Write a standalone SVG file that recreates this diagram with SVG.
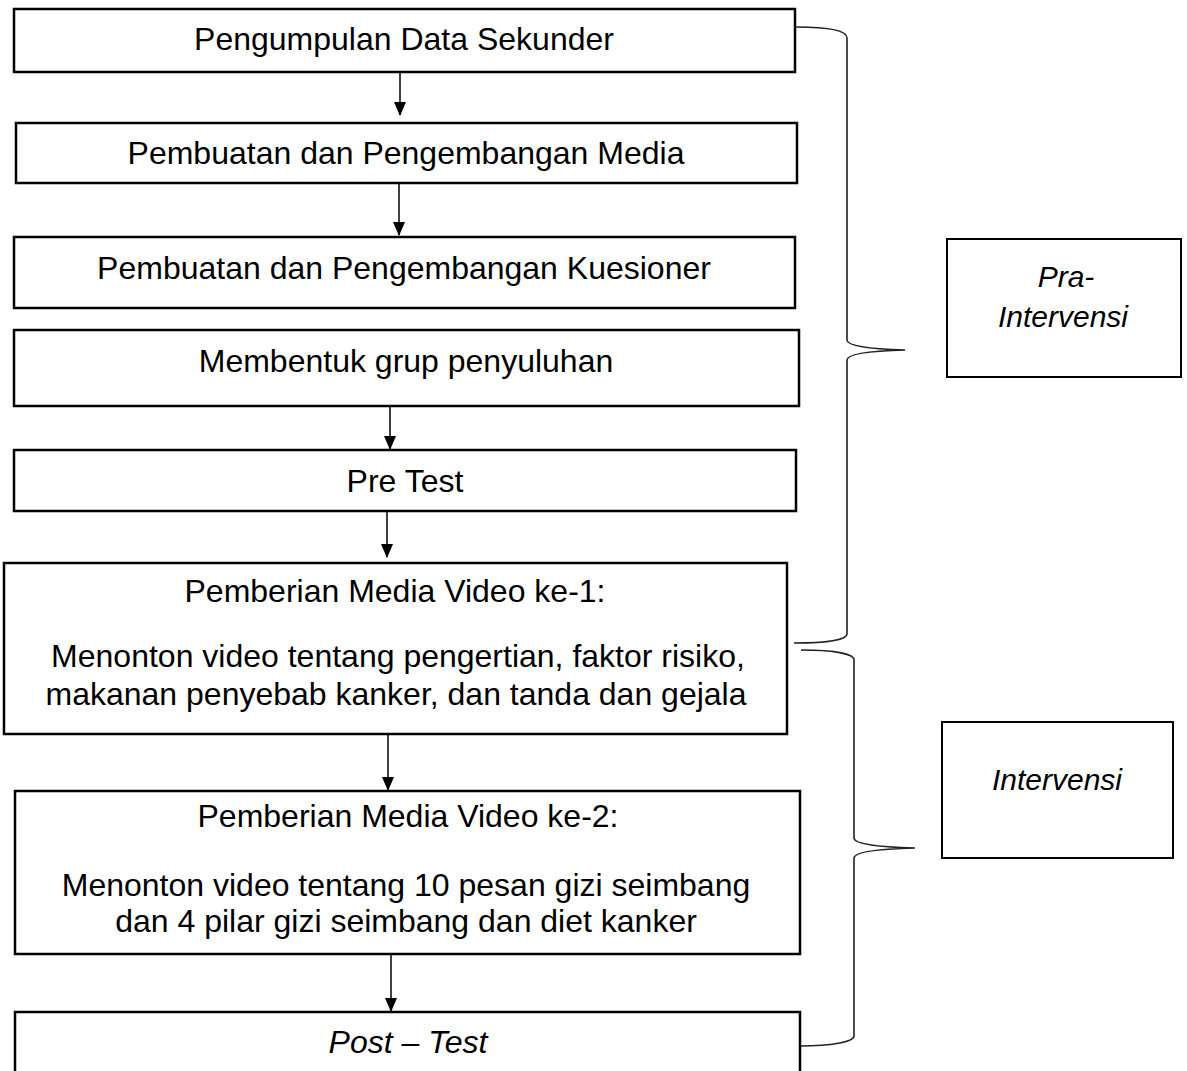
<svg xmlns="http://www.w3.org/2000/svg" width="1187" height="1071" viewBox="0 0 1187 1071">
<style>
.box{fill:#fff;stroke:#000;stroke-width:2.5}
.lbl{fill:#fff;stroke:#000;stroke-width:2}
.t{font-family:"Liberation Sans",Arial,sans-serif;font-size:32px;fill:#000;text-anchor:middle}
.i{font-style:italic}
.s{font-size:30px}
.con{stroke:#000;stroke-width:1.5;fill:none;marker-end:url(#ah)}
.br{stroke:#222;stroke-width:1.6;fill:none}
</style>
<defs>
<marker id="ah" viewBox="0 0 14 12" refX="13" refY="6" markerWidth="14" markerHeight="12" markerUnits="userSpaceOnUse" orient="auto">
<path d="M0,0 L14,6 L0,12 Z" fill="#000"/>
</marker>
</defs>
<rect width="1187" height="1071" fill="#fff"/>
<g id="connectors">
<line class="con" x1="400" y1="72" x2="400" y2="115"/>
<line class="con" x1="399" y1="183" x2="399" y2="235"/>
<line class="con" x1="390" y1="406" x2="390" y2="449"/>
<line class="con" x1="387" y1="511" x2="387" y2="557"/>
<line class="con" x1="388" y1="734" x2="388" y2="790"/>
<line class="con" x1="391" y1="954" x2="391" y2="1011"/>
<path class="br" d="M796,27 C826,27 847,30 847,38 L847,340 C847,346 870,349 905,350 C870,351 847,354 847,360 L847,634 C847,640 826,643 794,643"/>
<path class="br" d="M801,650 C830,650 854,653 854,660 L854,838 C854,844 878,847 915,848 C878,849 854,852 854,858 L854,1036 C854,1042 830,1046 801,1046"/>
</g>
<g id="n1"><rect class="box" x="14" y="9" width="781" height="63"/><text class="t" x="404" y="50">Pengumpulan Data Sekunder</text></g>
<g id="n2"><rect class="box" x="16" y="123" width="781" height="60"/><text class="t" x="406" y="164">Pembuatan dan Pengembangan Media</text></g>
<g id="n3"><rect class="box" x="14" y="237" width="781" height="71"/><text class="t" x="404" y="279">Pembuatan dan Pengembangan Kuesioner</text></g>
<g id="n4"><rect class="box" x="14" y="330" width="785" height="76"/><text class="t" x="406" y="372">Membentuk grup penyuluhan</text></g>
<g id="n5"><rect class="box" x="14" y="450" width="782" height="61"/><text class="t" x="405" y="492">Pre Test</text></g>
<g id="n6"><rect class="box" x="4" y="563" width="783" height="171"/>
<text class="t" x="395" y="602">Pemberian Media Video ke-1:</text>
<text class="t" x="398" y="667">Menonton video tentang pengertian, faktor risiko,</text>
<text class="t" x="396" y="705">makanan penyebab kanker, dan tanda dan gejala</text></g>
<g id="n7"><rect class="box" x="15" y="791" width="785" height="163"/>
<text class="t" x="408" y="827">Pemberian Media Video ke-2:</text>
<text class="t" x="406" y="896">Menonton video tentang 10 pesan gizi seimbang</text>
<text class="t" x="406" y="932">dan 4 pilar gizi seimbang dan diet kanker</text></g>
<g id="n8"><rect class="box" x="15" y="1012" width="785" height="80"/><text class="t i" x="408" y="1053">Post – Test</text></g>
<g id="pra"><rect class="lbl" x="947" y="239" width="234" height="138"/>
<text class="t i s" x="1066" y="287">Pra-</text><text class="t i s" x="1063" y="327">Intervensi</text></g>
<g id="intervensi"><rect class="lbl" x="942" y="722" width="231" height="136"/>
<text class="t i s" x="1057" y="790">Intervensi</text></g>
</svg>
